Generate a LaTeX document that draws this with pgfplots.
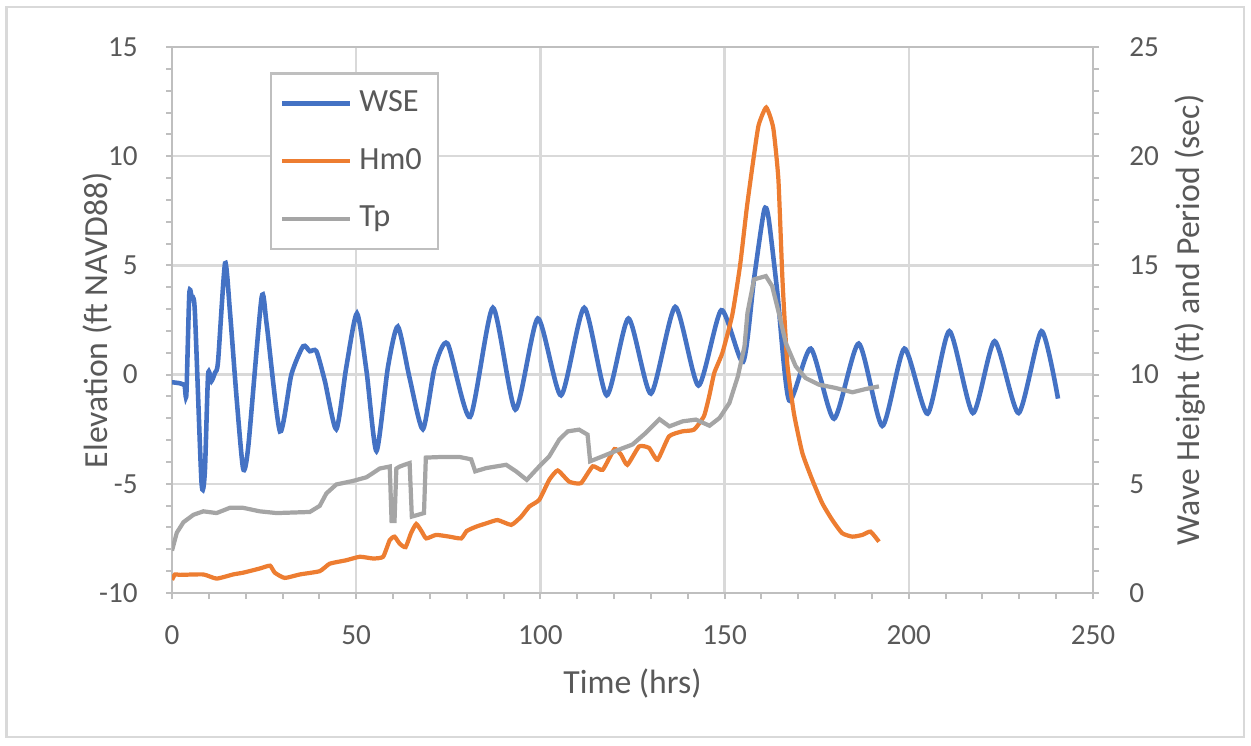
\documentclass[border=0pt]{standalone}
\usepackage{pgfplots}
\pgfplotsset{compat=1.18}
\usepackage{fontspec}
\setmainfont{Carlito}
\definecolor{wse}{HTML}{4472C4}
\definecolor{hmo}{HTML}{ED7D31}
\definecolor{tpc}{HTML}{A5A5A5}
\definecolor{gridc}{HTML}{D9D9D9}
\definecolor{axc}{HTML}{BFBFBF}
\definecolor{txt}{HTML}{595959}
\begin{document}
\begin{tikzpicture}
\useasboundingbox (0,0) rectangle (125.1mm,74.5mm);
\draw[color=gridc, line width=0.25mm] (0.65mm,0.8mm) rectangle (124.4mm,73.8mm);
\begin{axis}[
  at={(17.2mm,15.2mm)}, anchor=south west,
  scale only axis, width=92.1mm, height=54.6mm,
  xmin=0, xmax=250, ymin=-10, ymax=15,
  xtick={0,50,...,250}, ytick={-10,-5,...,15},
  minor x tick num=4, minor y tick num=4,
  xtick pos=bottom, ytick pos=left,
  tick align=outside,
  major tick length=0.6mm, minor tick length=0.6mm,
  every tick/.style={color=axc, line width=0.2mm},
  axis line style={color=axc, line width=0.25mm},
  grid=major, major grid style={color=gridc, line width=0.25mm},
  /pgf/number format/assume math mode=true,
  ticklabel style={font=\fontsize{8.3}{10}\selectfont, text=txt},
  yticklabel style={xshift=-1.6mm},
  xticklabel style={yshift=-1.4mm},
  label style={font=\fontsize{9.6}{11}\selectfont, text=txt},
  xlabel={Time (hrs)},
  ylabel={Elevation (ft NAVD88)},
  every axis x label/.append style={at={(axis description cs:0.5,-0.165)}, anchor=center},
  every axis y label/.append style={at={(axis description cs:-0.081,0.5)}, anchor=center},
]
\addplot[color=wse, line width=1.3pt, smooth, tension=0.4] coordinates {
(0,-0.35) (2.2,-0.4) (3.4,-0.5) (3.9,-0.9) (4.7,3.7) (5.4,3.5) (6.2,2.9)
(8.0,-4.9) (8.9,-4.5) (9.8,0.0) (10.7,-0.3) (11.7,0.1) (12.5,0.6) (14.4,5.1)
(15.7,2.95) (17.5,-1.0) (19.3,-4.3) (20.7,-3.3) (24.3,3.5) (25.7,2.3) (29.3,-2.6)
(32.4,0.0) (35.6,1.3) (37.4,1.07) (39.2,1.07) (41.5,-0.3) (44.6,-2.5) (47.3,0.33)
(50.2,2.8) (52.8,0.16) (55.5,-3.5) (58.6,0.33) (61.3,2.2) (64.5,-0.16) (68.1,-2.5)
(71.3,0.33) (74.8,1.42) (80.9,-1.94) (87.1,3.06) (93.2,-1.6) (99.3,2.57)
(105.6,-0.95) (111.9,3.06) (118,-0.95) (123.9,2.57) (130,-0.87) (136.6,3.1)
(142.9,-0.5) (149.1,2.95) (155,0.58) (158,4.4) (160.7,7.5) (161.9,7.2)
(164.3,3.79) (167.5,-1.18) (173.4,1.19) (179.7,-2.02) (186.4,1.42) (192.8,-2.35)
(198.8,1.19) (205.1,-1.79) (211,1.99) (217.4,-1.76) (223.3,1.53) (229.8,-1.76)
(236,1.99) (240.5,-1.1)
};
\end{axis}
\begin{axis}[
  at={(17.2mm,15.2mm)}, anchor=south west,
  scale only axis, width=92.1mm, height=54.6mm,
  xmin=0, xmax=250, ymin=0, ymax=25,
  axis x line=none, axis y line*=right,
  ytick={0,5,...,25}, minor y tick num=4,
  tick align=outside,
  major tick length=0.6mm, minor tick length=0.6mm,
  every tick/.style={color=axc, line width=0.2mm},
  axis line style={color=axc, line width=0.25mm, -},
  /pgf/number format/assume math mode=true,
  ticklabel style={font=\fontsize{8.3}{10}\selectfont, text=txt},
  yticklabel style={xshift=1.8mm},
  label style={font=\fontsize{9.6}{11}\selectfont, text=txt},
  ylabel={Wave Height (ft) and Period (sec)},
  every axis y label/.append style={at={(axis description cs:1.105,0.5)}, anchor=center, rotate=0},
  legend style={at={(0.106,0.954)}, anchor=north west, draw=axc, line width=0.25mm,
    fill=white, inner xsep=0.9mm, inner ysep=1.0mm, row sep=1.75mm,
    font=\fontsize{9.2}{10}\selectfont, text=txt},
  legend cell align=left,
  legend image code/.code={\draw[#1] (0mm,0mm) -- (6.8mm,0mm);},
]
\addlegendimage{color=wse, line width=1.3pt}
\addlegendentry{WSE}
\addplot[color=hmo, line width=1.2pt, smooth, tension=0.3] coordinates {
(0,0.6) (0.8,0.85) (2.2,0.83) (8.5,0.85) (12.1,0.66) (16.6,0.85) (19.3,0.93)
(23.8,1.12) (26.6,1.25) (27.9,0.93) (30.6,0.69) (34.7,0.85) (40.1,1.0) (42.8,1.34)
(47.3,1.5) (51,1.66) (54.6,1.58) (57.3,1.66) (59.1,2.42) (60.4,2.58) (61.8,2.26)
(63.4,2.1) (64.9,2.75) (66.3,3.16) (67.7,2.84) (69,2.5) (71.7,2.66) (75.3,2.58)
(78.5,2.5) (80,2.84) (82.6,3.04) (85.5,3.2) (88.4,3.34) (92.1,3.12) (94.8,3.5)
(97,3.96) (99.7,4.27) (102.4,5.18) (104.7,5.61) (107.8,5.1) (111,5.03) (114.2,5.8)
(116.9,5.64) (120.1,6.59) (121.9,6.33) (123.6,5.87) (126.8,6.71) (129.5,6.64)
(131.8,6.1) (134.9,7.17) (138.5,7.4) (141.7,7.48) (144.4,8.1) (145.8,9.0)
(147.2,10.08) (149.4,11.0) (152.1,12.75) (154.2,15.0) (156.0,17.6) (157.6,19.6)
(159.2,21.4) (161.3,22.23) (163.2,21.3) (164.6,18.94) (165.7,14.36) (167,10.53)
(168.8,8.24) (171.1,6.41) (173.8,5.18) (176.5,4.11) (179.2,3.35) (181.9,2.74)
(184.7,2.58) (187.4,2.66) (189.6,2.81) (191.9,2.35)
};
\addlegendentry{Hm0}
\addplot[color=tpc, line width=1.2pt] coordinates {
(0,1.94) (1.3,2.76) (3.1,3.24) (5.8,3.58) (8.5,3.74) (12.1,3.66) (15.7,3.9)
(19.3,3.9) (23.8,3.74) (28.4,3.66) (37.4,3.71) (40.1,3.99) (41.9,4.56) (44.6,4.97)
(49.1,5.13) (52.8,5.3) (56.4,5.7) (59.1,5.79) (59.6,3.3) (60.4,3.3) (60.9,5.7)
(61.8,5.79) (63.1,5.87) (64.5,5.95) (65.1,3.5) (66.8,3.58) (68.4,3.66) (68.9,6.2)
(73.5,6.23) (78,6.23) (81.2,6.12) (82.3,5.57) (85.3,5.72) (90.7,5.87) (93.4,5.57)
(96.3,5.18) (99.7,5.8) (102.4,6.26) (105.1,7.02) (107.4,7.4) (110.5,7.48)
(112.8,7.25) (113.5,6.03) (116.9,6.26) (121.4,6.57) (125,6.8) (128.6,7.33)
(132.3,7.96) (135,7.63) (138.6,7.86) (142.2,7.94) (145.9,7.66) (148.6,8.01)
(151.3,8.7) (153.6,9.92) (155.4,11.3) (156.2,12.83) (158,14.36) (161.2,14.51)
(162.9,14.05) (164.7,12.83) (166.6,11.45) (169.3,10.38) (172,9.84) (175.6,9.54)
(180.1,9.39) (184.7,9.19) (188.3,9.34) (191.9,9.46)
};
\addlegendentry{Tp}
\end{axis}
\end{tikzpicture}
\end{document}
